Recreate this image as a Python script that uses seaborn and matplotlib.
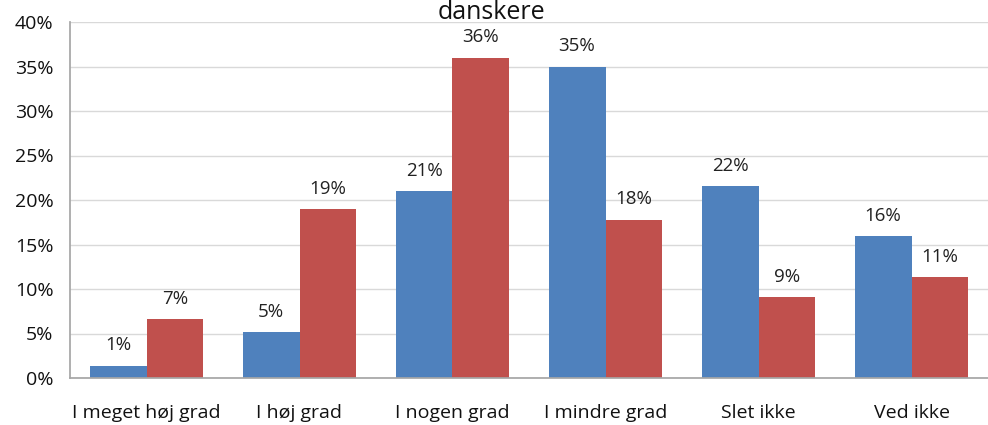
import pandas as pd
import matplotlib.pyplot as plt
import seaborn as sns
from matplotlib.ticker import PercentFormatter

sns.set_theme(style='white')
plt.rcParams['font.family'] = ['Open Sans', 'DejaVu Sans']

categories = ['I meget høj grad', 'I høj grad', 'I nogen grad', 'I mindre grad', 'Slet ikke', 'Ved ikke']
serie_1 = [1.4, 5.2, 21.0, 35.0, 21.6, 15.9]
serie_2 = [6.6, 19.0, 36.0, 17.8, 9.1, 11.3]
series = ['Serie 1', 'Serie 2']
colors = ['#4F81BD', '#C0504D']

df = pd.DataFrame({'kategori': categories * 2,
                   'serie': [series[0]] * 6 + [series[1]] * 6,
                   'andel': serie_1 + serie_2})

fig = plt.figure(figsize=(9.88, 4.25), dpi=100)
ax = fig.add_axes([70/988, 47/425, 1 - 70/988, (378-22)/425])

sns.barplot(data=df, x='kategori', y='andel', hue='serie', palette=colors,
            width=0.745, saturation=1, legend=False, linewidth=0, ax=ax)

for c in ax.containers:
    ax.bar_label(c, labels=[f'{v:.0f}%' for v in c.datavalues], padding=8,
                 fontsize=13.5, color='#222222')

ax.set_ylim(0, 40)
ax.set_yticks(range(0, 41, 5))
ax.yaxis.set_major_formatter(PercentFormatter(decimals=0))
ax.grid(axis='y', color='#d9d9d9', linewidth=1)
ax.set_axisbelow(True)
ax.set_xlabel('')
ax.set_ylabel('')
ax.tick_params(axis='x', labelsize=14, pad=19, length=0, colors='#111111')
ax.tick_params(axis='y', labelsize=14, pad=12, length=0, colors='#111111')
for s in ['top', 'right']:
    ax.spines[s].set_visible(False)
ax.spines['left'].set_color('#a6a6a6')
ax.spines['bottom'].set_color('#a6a6a6')

fig.text(0.497, 1.0, 'danskere', ha='center', va='top', fontsize=18, color='#111111')

fig.savefig('out.png', dpi=100)
